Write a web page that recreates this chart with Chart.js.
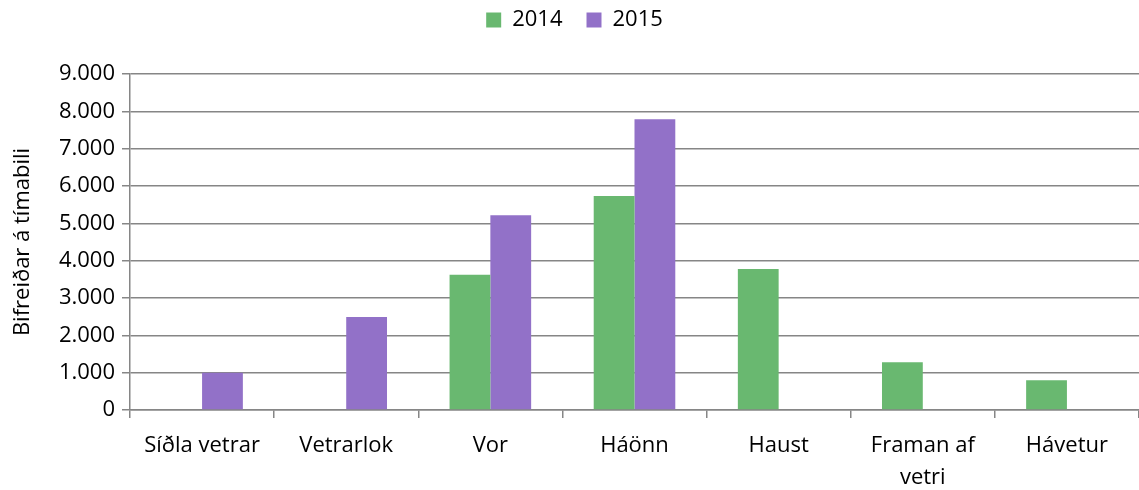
<!DOCTYPE html>
<html>
<head>
<meta charset="utf-8">
<script src="https://cdn.jsdelivr.net/npm/chart.js@4/dist/chart.umd.min.js"></script>
<style>
  html, body { margin: 0; padding: 0; background: #fff; }
  #wrap { width: 1139px; height: 490px; position: relative; }
</style>
</head>
<body>
<div id="wrap"><canvas id="c"></canvas></div>
<script>
// Bifreiðar á tímabili eftir árstíma
const categories = ['Síðla vetrar', 'Vetrarlok', 'Vor', 'Háönn', 'Haust', ['Framan af', 'vetri'], 'Hávetur'];
const series2014 = [null, null, 3620, 5730, 3780, 1280, 795];
const series2015 = [1000, 2490, 5215, 7790, null, null, null];
const yTicks = [0, 1000, 2000, 3000, 4000, 5000, 6000, 7000, 8000, 9000];

const FONT = '"Open Sans", "Liberation Sans", sans-serif';
const FS = 22;
const gridGray = '#868686';

function fmt(v) {
  return String(v).replace(/\B(?=(\d{3})+(?!\d))/g, '.');
}

// Extra space between the legend row and the plot area
const legendGap = {
  id: 'legendGap',
  beforeInit(chart) {
    const lg = chart.legend;
    if (!lg || lg._gapPatched) return;
    const fit = lg.fit;
    lg.fit = function () { fit.call(this); this.height += 33; };
    lg._gapPatched = true;
  }
};

new Chart(document.getElementById('c'), {
  type: 'bar',
  data: {
    labels: categories,
    datasets: [
      { label: '2014', data: series2014, backgroundColor: '#69b870', borderWidth: 0 },
      { label: '2015', data: series2015, backgroundColor: '#9271c8', borderWidth: 0 }
    ]
  },
  plugins: [legendGap],
  options: {
    responsive: true,
    maintainAspectRatio: false,
    animation: false,
    layout: { padding: { left: 10, right: 0, top: -15, bottom: 0 } },
    datasets: { bar: { categoryPercentage: 0.566, barPercentage: 1.0 } },
    plugins: {
      tooltip: { enabled: false },
      legend: {
        position: 'top',
        labels: {
          font: { family: FONT, size: FS },
          color: '#000',
          boxWidth: 15,
          boxHeight: 15,
          padding: 24
        }
      }
    },
    scales: {
      x: {
        offset: true,
        afterFit: (s) => { s.height = 80; },
        grid: {
          offset: true,
          drawOnChartArea: false,
          drawTicks: true,
          tickLength: 8,
          color: gridGray,
          lineWidth: 1.5
        },
        border: { color: gridGray, width: 1.5 },
        ticks: {
          font: { family: FONT, size: FS, lineHeight: 1.45 },
          color: '#000',
          maxRotation: 0,
          autoSkip: false,
          padding: 12
        }
      },
      y: {
        min: 0,
        max: 9000,
        afterFit: (s) => { s.width = 120; },
        afterBuildTicks: (axis) => { axis.ticks = yTicks.map(v => ({ value: v })); },
        grid: {
          color: gridGray,
          lineWidth: 1.5,
          drawTicks: true,
          tickLength: 8
        },
        border: { color: gridGray, width: 1.5 },
        ticks: {
          font: { family: FONT, size: FS },
          color: '#000',
          padding: 7,
          callback: (v) => fmt(v)
        },
        title: {
          display: true,
          text: 'Bifreiðar á tímabili',
          font: { family: FONT, size: FS },
          color: '#000',
          padding: { top: 0, bottom: 4 }
        }
      }
    }
  }
});
</script>
</body>
</html>
